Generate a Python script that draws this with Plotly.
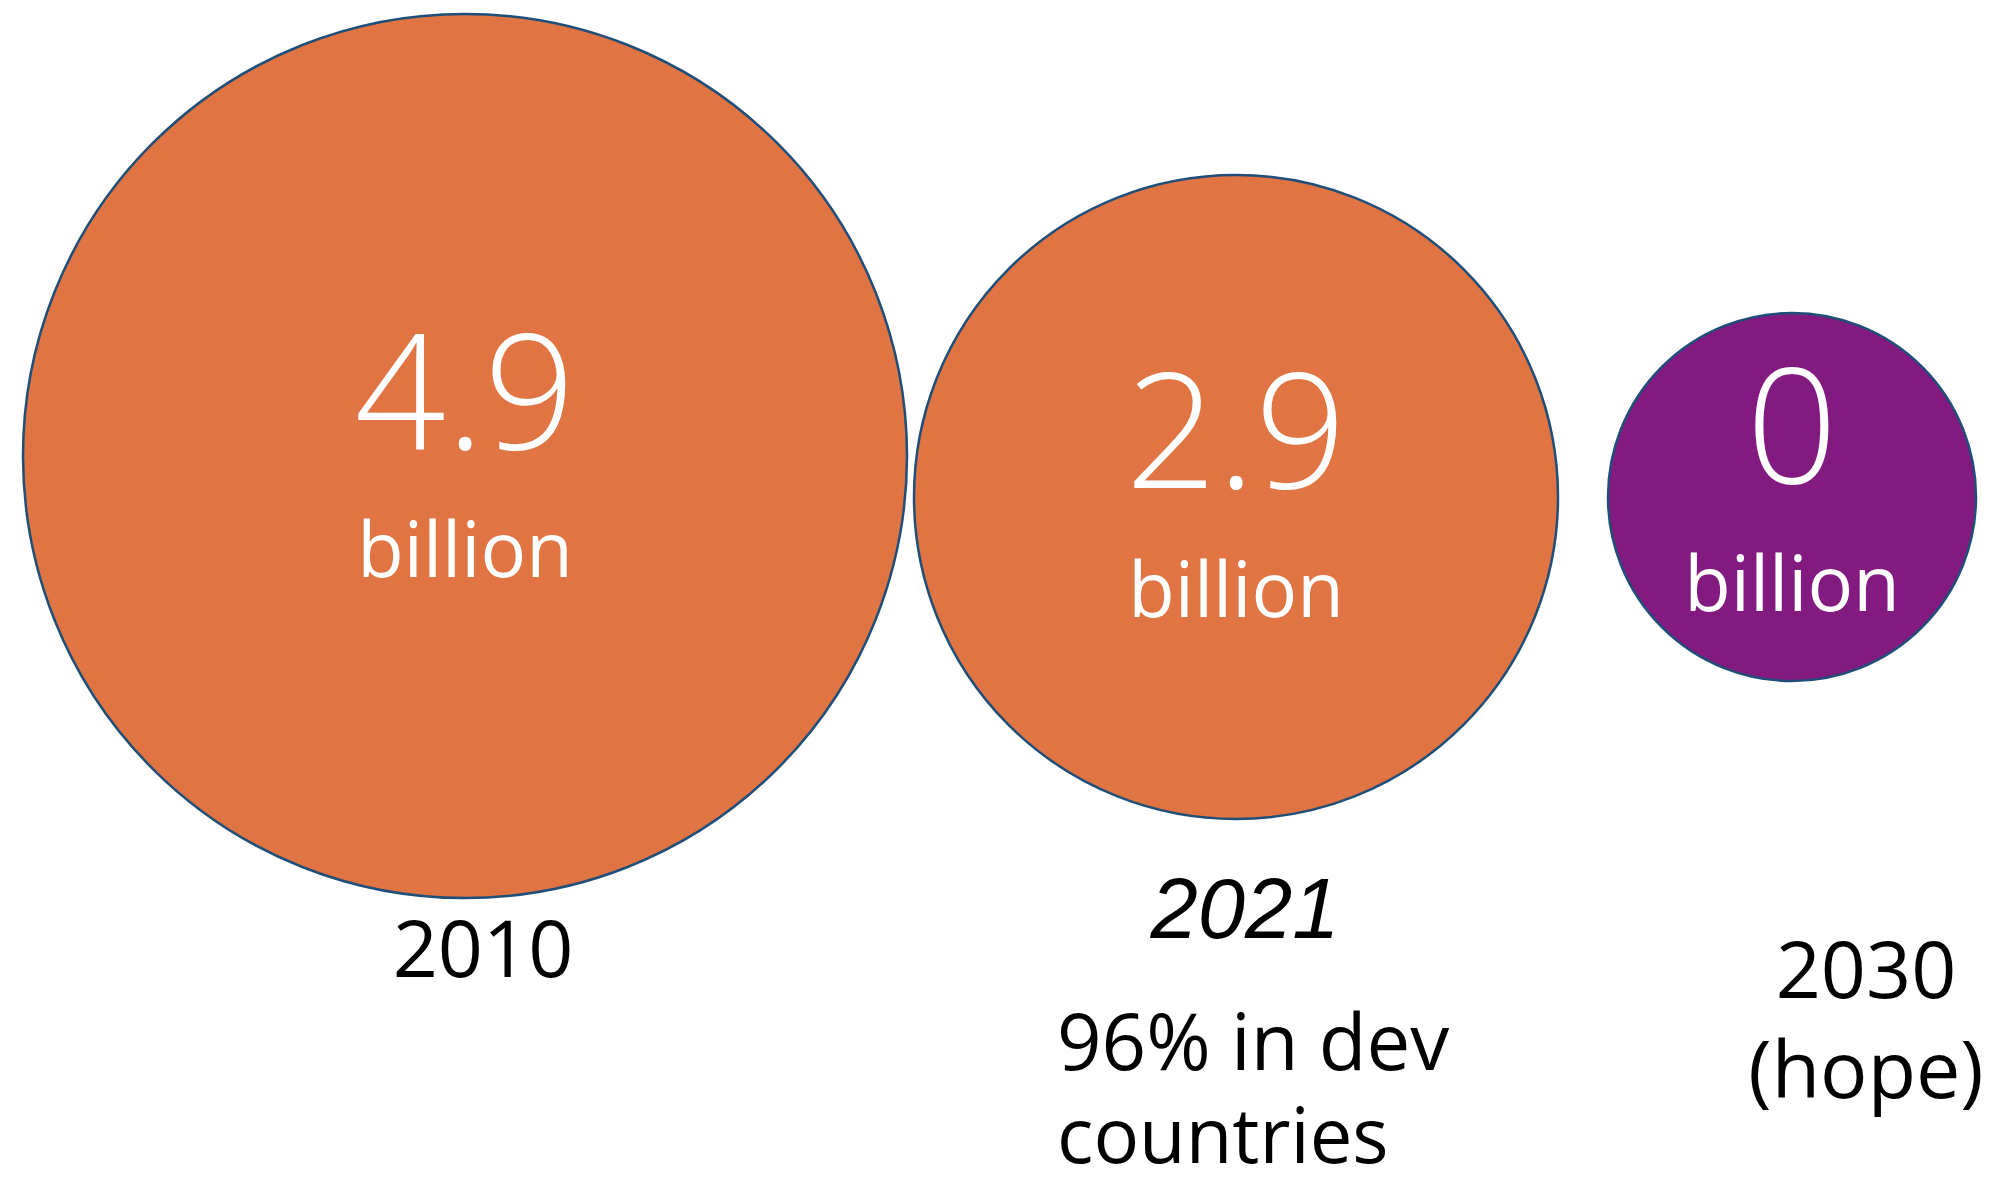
import plotly.graph_objects as go

# ---- data ----
years = ["2010", "2021", "2030"]
values = [4.9, 2.9, 0]
value_labels = ["4.9", "2.9", "0"]
unit_label = "billion"
note_2021 = ["96% in dev", "countries"]
note_2030 = "(hope)"

# ---- layout / style (pixel space of the 1992x1178 page) ----
W, H = 1992, 1178
PAD = 8  # default page body margin
cx = [465, 1236, 1792]
cy = [456, 497, 497]
diam = [884, 644, 368]
fills = ["#E17443", "#E17443", "#821A80"]
edge = "#1F4E79"

val_y = [409, 448, 443]
unit_y = [558, 598, 592]

FONT = "Open Sans"

fig = go.Figure()

# bubbles
fig.add_trace(go.Scatter(
    x=cx, y=cy, mode="markers",
    marker=dict(size=diam, color=fills, line=dict(color=edge, width=2.5), opacity=1),
    hoverinfo="text", hovertext=[f"{y}: {v} billion" for y, v in zip(years, values)],
    showlegend=False,
))

# value labels
fig.add_trace(go.Scatter(
    x=cx, y=val_y, mode="text", text=value_labels, textposition="middle center",
    textfont=dict(family=FONT, size=160, color="white", weight=300),
    hoverinfo="skip", showlegend=False,
))
# unit labels
fig.add_trace(go.Scatter(
    x=cx, y=unit_y, mode="text", text=[unit_label] * 3, textposition="middle center",
    textfont=dict(family=FONT, size=76, color="white", weight=400),
    hoverinfo="skip", showlegend=False,
))

# year labels
fig.add_trace(go.Scatter(
    x=[483, 1866], y=[957, 978], mode="text", text=[years[0], years[2]],
    textposition="middle center",
    textfont=dict(family=FONT, size=79, color="black", weight=400),
    hoverinfo="skip", showlegend=False,
))
fig.add_trace(go.Scatter(
    x=[1245], y=[917], mode="text", text=[years[1]],
    textposition="middle center",
    textfont=dict(family="Liberation Sans", size=85, color="black",
                  style="italic", weight=400),
    hoverinfo="skip", showlegend=False,
))
# notes
fig.add_trace(go.Scatter(
    x=[1057], y=[1050], mode="text", text=[note_2021[0]],
    textposition="middle right",
    textfont=dict(family=FONT, size=78, color="black", weight=400),
    hoverinfo="skip", showlegend=False,
))
fig.add_trace(go.Scatter(
    x=[1057], y=[1144], mode="text", text=[note_2021[1]],
    textposition="middle right",
    textfont=dict(family=FONT, size=76, color="black", weight=400),
    hoverinfo="skip", showlegend=False,
))
fig.add_trace(go.Scatter(
    x=[1866], y=[1078], mode="text", text=[note_2030],
    textposition="middle center",
    textfont=dict(family=FONT, size=79, color="black", weight=400),
    hoverinfo="skip", showlegend=False,
))

fig.add_shape(type="line", x0=1990, x1=1990, y0=15, y1=862,
              line=dict(color="#EBEBEB", width=1.5), layer="below")

fig.update_layout(
    width=W - PAD, height=H - PAD, margin=dict(l=0, r=0, t=0, b=0),
    paper_bgcolor="white", plot_bgcolor="white",
    xaxis=dict(range=[PAD, W], visible=False, fixedrange=True),
    yaxis=dict(range=[H, PAD], visible=False, fixedrange=True),
    showlegend=False,
)

fig.write_html("out.html", config={"displayModeBar": False})
